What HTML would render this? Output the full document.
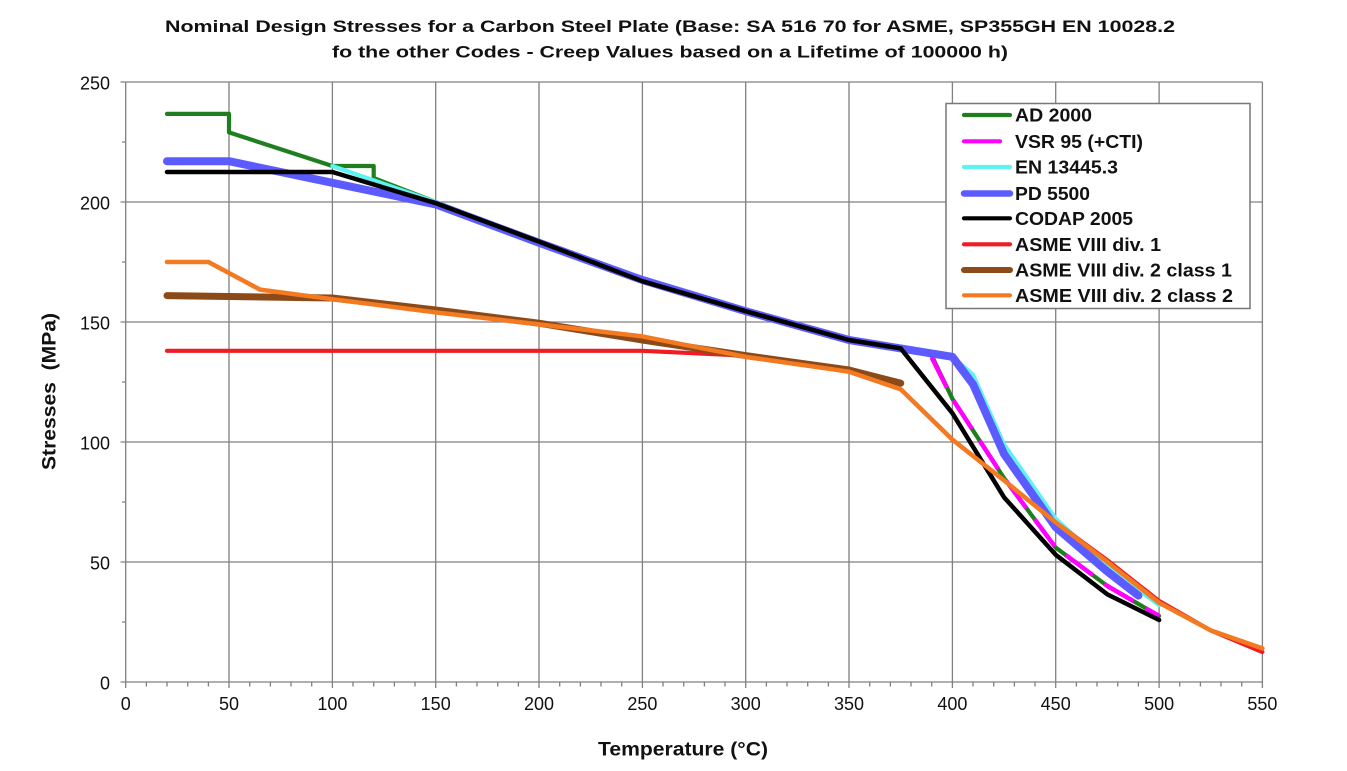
<!DOCTYPE html>
<html><head><meta charset="utf-8"><style>
html,body{margin:0;padding:0;background:#fff;}
svg{display:block;}
text{font-family:"Liberation Sans",Arial,sans-serif;fill:#111;}
</style></head><body>
<svg width="1347" height="771" viewBox="0 0 1347 771" xmlns="http://www.w3.org/2000/svg">
<rect width="1347" height="771" fill="#fff"/>
<!-- title -->
<text x="165" y="32" font-size="17" font-weight="bold" textLength="1010" lengthAdjust="spacingAndGlyphs">Nominal Design Stresses for a Carbon Steel Plate (Base: SA 516 70 for ASME, SP355GH EN 10028.2</text>
<text x="332" y="57.7" font-size="17" font-weight="bold" textLength="676" lengthAdjust="spacingAndGlyphs">fo the other Codes - Creep Values based on a Lifetime of 100000 h)</text>

<!-- grid -->
<g stroke="#808080" stroke-width="1.3" fill="none">
<path d="M125.7 82H1262.4M125.7 202H1262.4M125.7 322H1262.4M125.7 442H1262.4M125.7 562H1262.4M125.7 682H1262.4"/>
<path d="M125.7 82V682M229 82V682M332.4 82V682M435.7 82V682M539 82V682M642.4 82V682M745.7 82V682M849 82V682M952.4 82V682M1055.7 82V682M1159.1 82V682M1262.4 82V682"/>
<!-- y ticks -->
<path d="M120.5 82H125.7M120.5 202H125.7M120.5 322H125.7M120.5 442H125.7M120.5 562H125.7M120.5 682H125.7"/>
<path d="M122 142H125.7M122 262H125.7M122 382H125.7M122 502H125.7M122 622H125.7"/>
<!-- x ticks -->
<path d="M125.7 682V688M229 682V688M332.4 682V688M435.7 682V688M539 682V688M642.4 682V688M745.7 682V688M849 682V688M952.4 682V688M1055.7 682V688M1159.1 682V688M1262.4 682V688"/>
<path d="M146.4 682v4.5M167 682v4.5M187.7 682v4.5M208.4 682v4.5M249.7 682v4.5M270.4 682v4.5M291 682v4.5M311.7 682v4.5M353 682v4.5M373.7 682v4.5M394.4 682v4.5M415 682v4.5M456.4 682v4.5M477 682v4.5M497.7 682v4.5M518.4 682v4.5M559.7 682v4.5M580.4 682v4.5M601 682v4.5M621.7 682v4.5M663 682v4.5M683.7 682v4.5M704.4 682v4.5M725 682v4.5M766.4 682v4.5M787 682v4.5M807.7 682v4.5M828.4 682v4.5M869.7 682v4.5M890.4 682v4.5M911 682v4.5M931.7 682v4.5M973 682v4.5M993.7 682v4.5M1014.4 682v4.5M1035 682v4.5M1076.4 682v4.5M1097 682v4.5M1117.7 682v4.5M1138.4 682v4.5M1179.7 682v4.5M1200.4 682v4.5M1221 682v4.5M1241.7 682v4.5"/>
</g>

<!-- tick labels -->
<g font-size="18" text-anchor="end">
<text x="110" y="89.5">250</text>
<text x="110" y="209.5">200</text>
<text x="110" y="329.5">150</text>
<text x="110" y="449.5">100</text>
<text x="110" y="569.5">50</text>
<text x="110" y="689.5">0</text>
</g>
<g font-size="18" text-anchor="middle">
<text x="125.7" y="710">0</text>
<text x="229" y="710">50</text>
<text x="332.4" y="710">100</text>
<text x="435.7" y="710">150</text>
<text x="539" y="710">200</text>
<text x="642.4" y="710">250</text>
<text x="745.7" y="710">300</text>
<text x="849" y="710">350</text>
<text x="952.4" y="710">400</text>
<text x="1055.7" y="710">450</text>
<text x="1159.1" y="710">500</text>
<text x="1262.4" y="710">550</text>
</g>

<!-- axis titles -->
<text x="598" y="755.5" font-size="19" font-weight="bold" textLength="170" lengthAdjust="spacingAndGlyphs">Temperature (°C)</text>
<text transform="translate(55.5 391.5) rotate(-90)" x="0" y="0" font-size="19" font-weight="bold" text-anchor="middle" textLength="157" lengthAdjust="spacingAndGlyphs">Stresses&#160; (MPa)</text>

<!-- series -->
<g fill="none" stroke-linejoin="round" stroke-linecap="round">
<!-- AD 2000 -->
<polyline stroke="#1f7f1f" stroke-width="4.2" points="167,113.9 229,113.9 229,132.4 332.4,166 373.7,166 373.7,178 435.7,202 539,242.8 642.4,280 745.7,311.2 849,340 900.7,348.4 931.7,355.5 952.4,398.8 1004,478 1055.7,547.6 1107.4,586 1159.1,616"/>
<!-- VSR 95 -->
<polyline stroke="#ff00ff" stroke-width="4.5" stroke-linecap="butt" stroke-dasharray="34 14" points="931.7,357.5 952.4,398.8 1004,478 1055.7,547.6 1107.4,586 1159.1,616"/>
<!-- EN 13445.3 -->
<polyline stroke="#5ff2f2" stroke-width="4.2" points="332.4,166 435.7,202 539,242.8 642.4,280 745.7,311.2 849,340 900.7,348.4 952.4,356.8 973.1,374.8 1004,444.4 1055.7,518.8 1107.4,566.8 1159.1,605.2"/>
<!-- PD 5500 -->
<polyline stroke="#5b5bff" stroke-width="8" points="167,161.2 229,161.2 332.4,182.8 435.7,204.4 539,242.8 642.4,280 745.7,311.2 849,340 900.7,348.4 952.4,356.8 973.1,384.4 1004,454 1055.7,527.2 1107.4,571.6 1138.4,595.6"/>
<!-- CODAP 2005 -->
<polyline stroke="#000" stroke-width="4.5" points="167,172 332.4,172 435.7,203.2 539,241.6 642.4,281.2 745.7,311.2 849,340 900.7,348.4 952.4,413.2 1004,497.2 1055.7,554.8 1107.4,594.4 1159.1,620"/>
<!-- ASME VIII div 1 -->
<polyline stroke="#ee1c24" stroke-width="4.2" points="167,350.8 642.4,350.8 745.7,355.6 849,371.7 900.7,389.2 952.4,439.6 1004,480.4 1055.7,522.4 1107.4,560.3 1159.1,601 1210.7,630.4 1262.4,652"/>
<!-- ASME VIII div 2 class 1 -->
<polyline stroke="#8c4a18" stroke-width="7" points="167,295.6 332.4,298 435.7,310 539,323.2 642.4,340 745.7,355.6 849,370 900.7,383.2"/>
<!-- ASME VIII div 2 class 2 -->
<polyline stroke="#f47a22" stroke-width="4.5" points="167,262 208.4,262 260,289.6 332.4,299.2 435.7,312.4 539,324.4 642.4,336.4 745.7,356.8 849,371.7 900.7,389.2 952.4,439.6 1004,480.4 1055.7,522.4 1107.4,562 1159.1,602.8 1210.7,630.4 1262.4,648.4"/>
</g>

<!-- legend -->
<rect x="946" y="103.5" width="304" height="205" fill="#fff" stroke="#777" stroke-width="1.5"/>
<g fill="none" stroke-linecap="round">
<line x1="964" y1="115" x2="1010" y2="115" stroke="#1f7f1f" stroke-width="4.2"/>
<line x1="964" y1="141.3" x2="1000" y2="141.3" stroke="#ff00ff" stroke-width="4.2"/>
<line x1="964" y1="167" x2="1010" y2="167" stroke="#5ff2f2" stroke-width="4.2"/>
<line x1="964" y1="193.5" x2="1010" y2="193.5" stroke="#5b5bff" stroke-width="6.5"/>
<line x1="964" y1="218.3" x2="1010" y2="218.3" stroke="#000" stroke-width="4.2"/>
<line x1="964" y1="244.3" x2="1010" y2="244.3" stroke="#ee1c24" stroke-width="4.2"/>
<line x1="964" y1="270" x2="1010" y2="270" stroke="#8c4a18" stroke-width="6"/>
<line x1="964" y1="295.3" x2="1010" y2="295.3" stroke="#f47a22" stroke-width="4.2"/>
</g>
<g font-size="18" font-weight="bold">
<text x="1015" y="121.7" textLength="77" lengthAdjust="spacingAndGlyphs">AD 2000</text>
<text x="1015" y="148" textLength="128" lengthAdjust="spacingAndGlyphs">VSR 95 (+CTI)</text>
<text x="1015" y="173.7" textLength="103" lengthAdjust="spacingAndGlyphs">EN 13445.3</text>
<text x="1015" y="200.2" textLength="75" lengthAdjust="spacingAndGlyphs">PD 5500</text>
<text x="1015" y="225" textLength="118" lengthAdjust="spacingAndGlyphs">CODAP 2005</text>
<text x="1015" y="251" textLength="146" lengthAdjust="spacingAndGlyphs">ASME VIII div. 1</text>
<text x="1015" y="276.7" textLength="217" lengthAdjust="spacingAndGlyphs">ASME VIII div. 2 class 1</text>
<text x="1015" y="302" textLength="218" lengthAdjust="spacingAndGlyphs">ASME VIII div. 2 class 2</text>
</g>
</svg>
</body></html>
